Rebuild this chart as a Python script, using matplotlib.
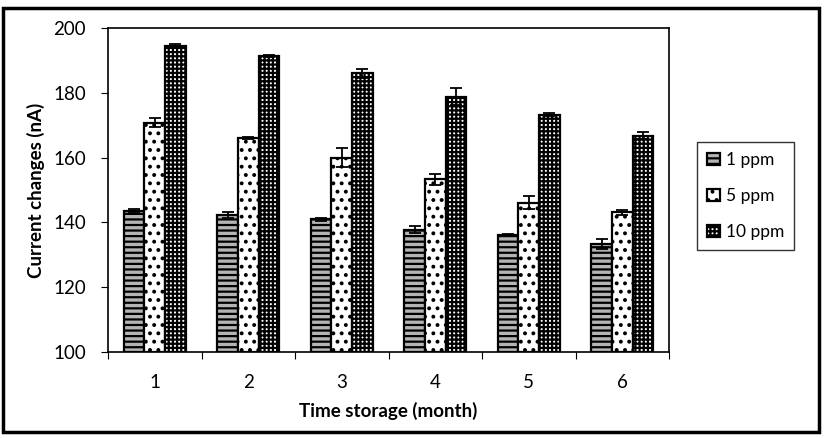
import numpy as np
from matplotlib import pyplot as plt
from matplotlib.patches import Rectangle

months = ["1", "2", "3", "4", "5", "6"]
series = ["1 ppm", "5 ppm", "10 ppm"]
ppm1 = [143.6, 142.2, 140.9, 137.8, 136.2, 133.4]
ppm1_err = [0.4, 0.9, 0.6, 1.0, 0.3, 1.5]
ppm5 = [170.8, 166.1, 160.0, 153.3, 146.1, 143.1]
ppm5_err = [1.5, 0.3, 3.0, 1.7, 2.1, 0.8]
ppm10 = [194.5, 191.4, 186.0, 178.8, 173.3, 166.8]
ppm10_err = [0.5, 0.4, 1.5, 2.6, 0.6, 1.0]

plt.rcParams["font.family"] = ["Lato", "DejaVu Sans"]
plt.rcParams["font.size"] = 11
plt.rcParams["hatch.linewidth"] = 1.6

fig = plt.figure(figsize=(8.24, 4.38), dpi=100)
ax = fig.add_axes([108/824, 1-352/438, (669-108)/824, (352-28)/438])

x = np.arange(len(months))
w = 0.22
styles = [
    dict(facecolor="#b4b4b4", hatch="---"),
    dict(facecolor="white", hatch=".."),
    dict(facecolor="white", hatch="++++"),
]
vals = [ppm1, ppm5, ppm10]
errs = [ppm1_err, ppm5_err, ppm10_err]
for i in range(3):
    ax.bar(x + (i - 1) * w, np.array(vals[i]) - 100, w, bottom=100,
           edgecolor="black", linewidth=1.6, label=series[i], zorder=2,
           **styles[i])
    ax.errorbar(x + (i - 1) * w, vals[i], yerr=errs[i], fmt="none",
                ecolor="black", elinewidth=1.3, capsize=4, capthick=1.3, zorder=3)

ax.set_ylim(100, 200)
ax.set_yticks([100, 120, 140, 160, 180, 200])
ax.set_xlim(-0.5, len(months) - 0.5)
ax.set_xticks(np.arange(len(months) + 1) - 0.5, minor=False)
ax.set_xticklabels([])
ax.set_xticks(x, minor=True)
ax.set_xticklabels(months, minor=True)
ax.tick_params(axis="x", which="major", length=5, direction="out")
ax.tick_params(axis="x", which="minor", length=0, pad=16, labelsize=13.5)
ax.tick_params(axis="y", length=5, direction="out", labelsize=13.5, pad=11)
for s in ax.spines.values():
    s.set_linewidth(1.2)
ax.set_ylabel("Current changes (nA)", fontweight="bold", fontsize=13.5, labelpad=6)
ax.set_xlabel("Time storage (month)", fontweight="bold", fontsize=13.5, labelpad=8)

leg = fig.legend(loc="center left", bbox_to_anchor=(697/824, 1-196/438),
                 frameon=True, fancybox=False, edgecolor="black",
                 handlelength=0.7, handleheight=0.7, handletextpad=0.35,
                 labelspacing=1.15, fontsize=12.5, borderpad=0.6, borderaxespad=0)
leg.get_frame().set_linewidth(1.0)

fig.patches.append(Rectangle((3/824, 6/438), 816/824, 424/438, transform=fig.transFigure,
                             fill=False, edgecolor="black", linewidth=2.5))

plt.savefig("out.png", dpi=100)
plt.close()
